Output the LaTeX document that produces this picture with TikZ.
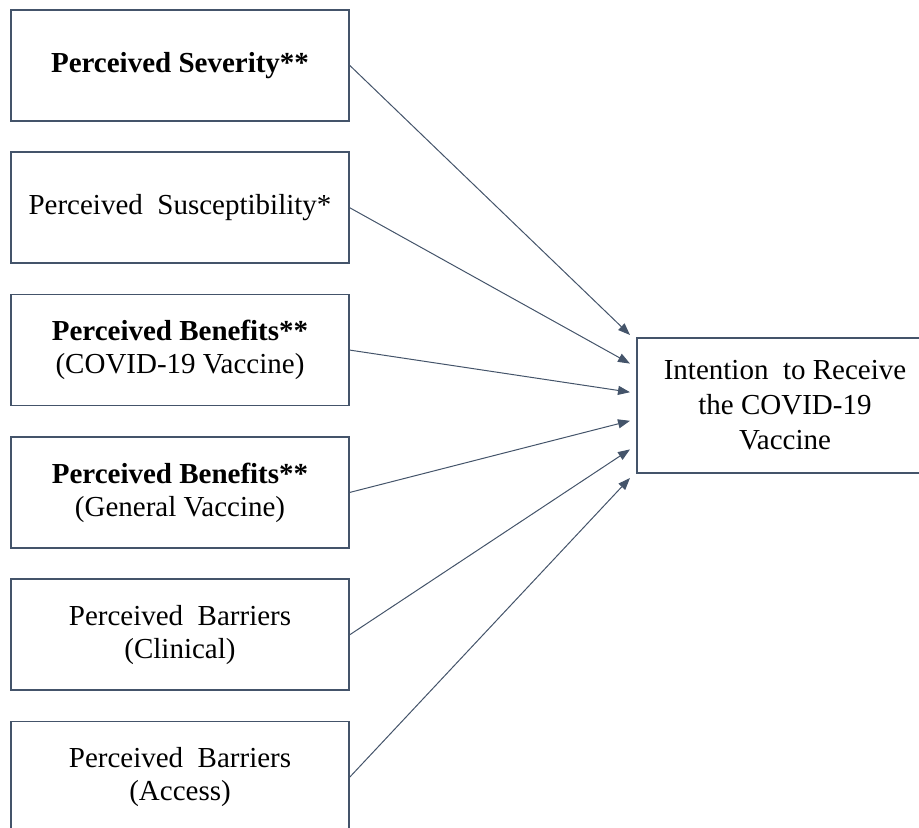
\documentclass[tikz,border=0pt]{standalone}
\usepackage{fontspec}
\setmainfont{Liberation Serif}
\usetikzlibrary{positioning,arrows.meta}
\definecolor{slate}{HTML}{44546A}
\begin{document}
\begin{tikzpicture}[x=0.5pt, y=-0.5pt, node distance={71.15pt},
  main/.style = {draw=slate, line width=0.85pt, minimum width=169pt, minimum height=55.5pt, align=center, inner sep=0pt, font=\fontsize{14.5}{16.5}\selectfont},
  link/.style = {draw=slate, line width=0.5pt, -{Triangle[length=6pt,width=4.5pt]}}]
  \useasboundingbox (0,0) rectangle (919,828);
  \clip (0,0) rectangle (919,828);
  \node[main] (1) at (180,65.5) {\textbf{Perceived Severity**}};
  \node[main] (2) [below of=1] {Perceived\ \ Susceptibility*};
  \node[main] (3) [below of=2] {\textbf{Perceived Benefits**}\\(COVID-19 Vaccine)};
  \node[main] (4) [below of=3] {\textbf{Perceived Benefits**}\\(General Vaccine)};
  \node[main] (5) [below of=4] {Perceived\ \ Barriers\\(Clinical)};
  \node[main] (6) [below of=5] {Perceived\ \ Barriers\\(Access)};
  \node[main, minimum width=148pt, minimum height=67.5pt, font=\fontsize{14.5}{17.5}\selectfont] (7) at (785,405.5) {Intention\ \ to Receive\\the COVID-19\\Vaccine};
  \foreach \i in {1,...,6}
    \coordinate (t\i) at (630,{335+28.6*(\i-1)});
  \foreach \i in {1,...,6}
    \draw[link] (\i.east) -- (t\i);
\end{tikzpicture}
\end{document}
